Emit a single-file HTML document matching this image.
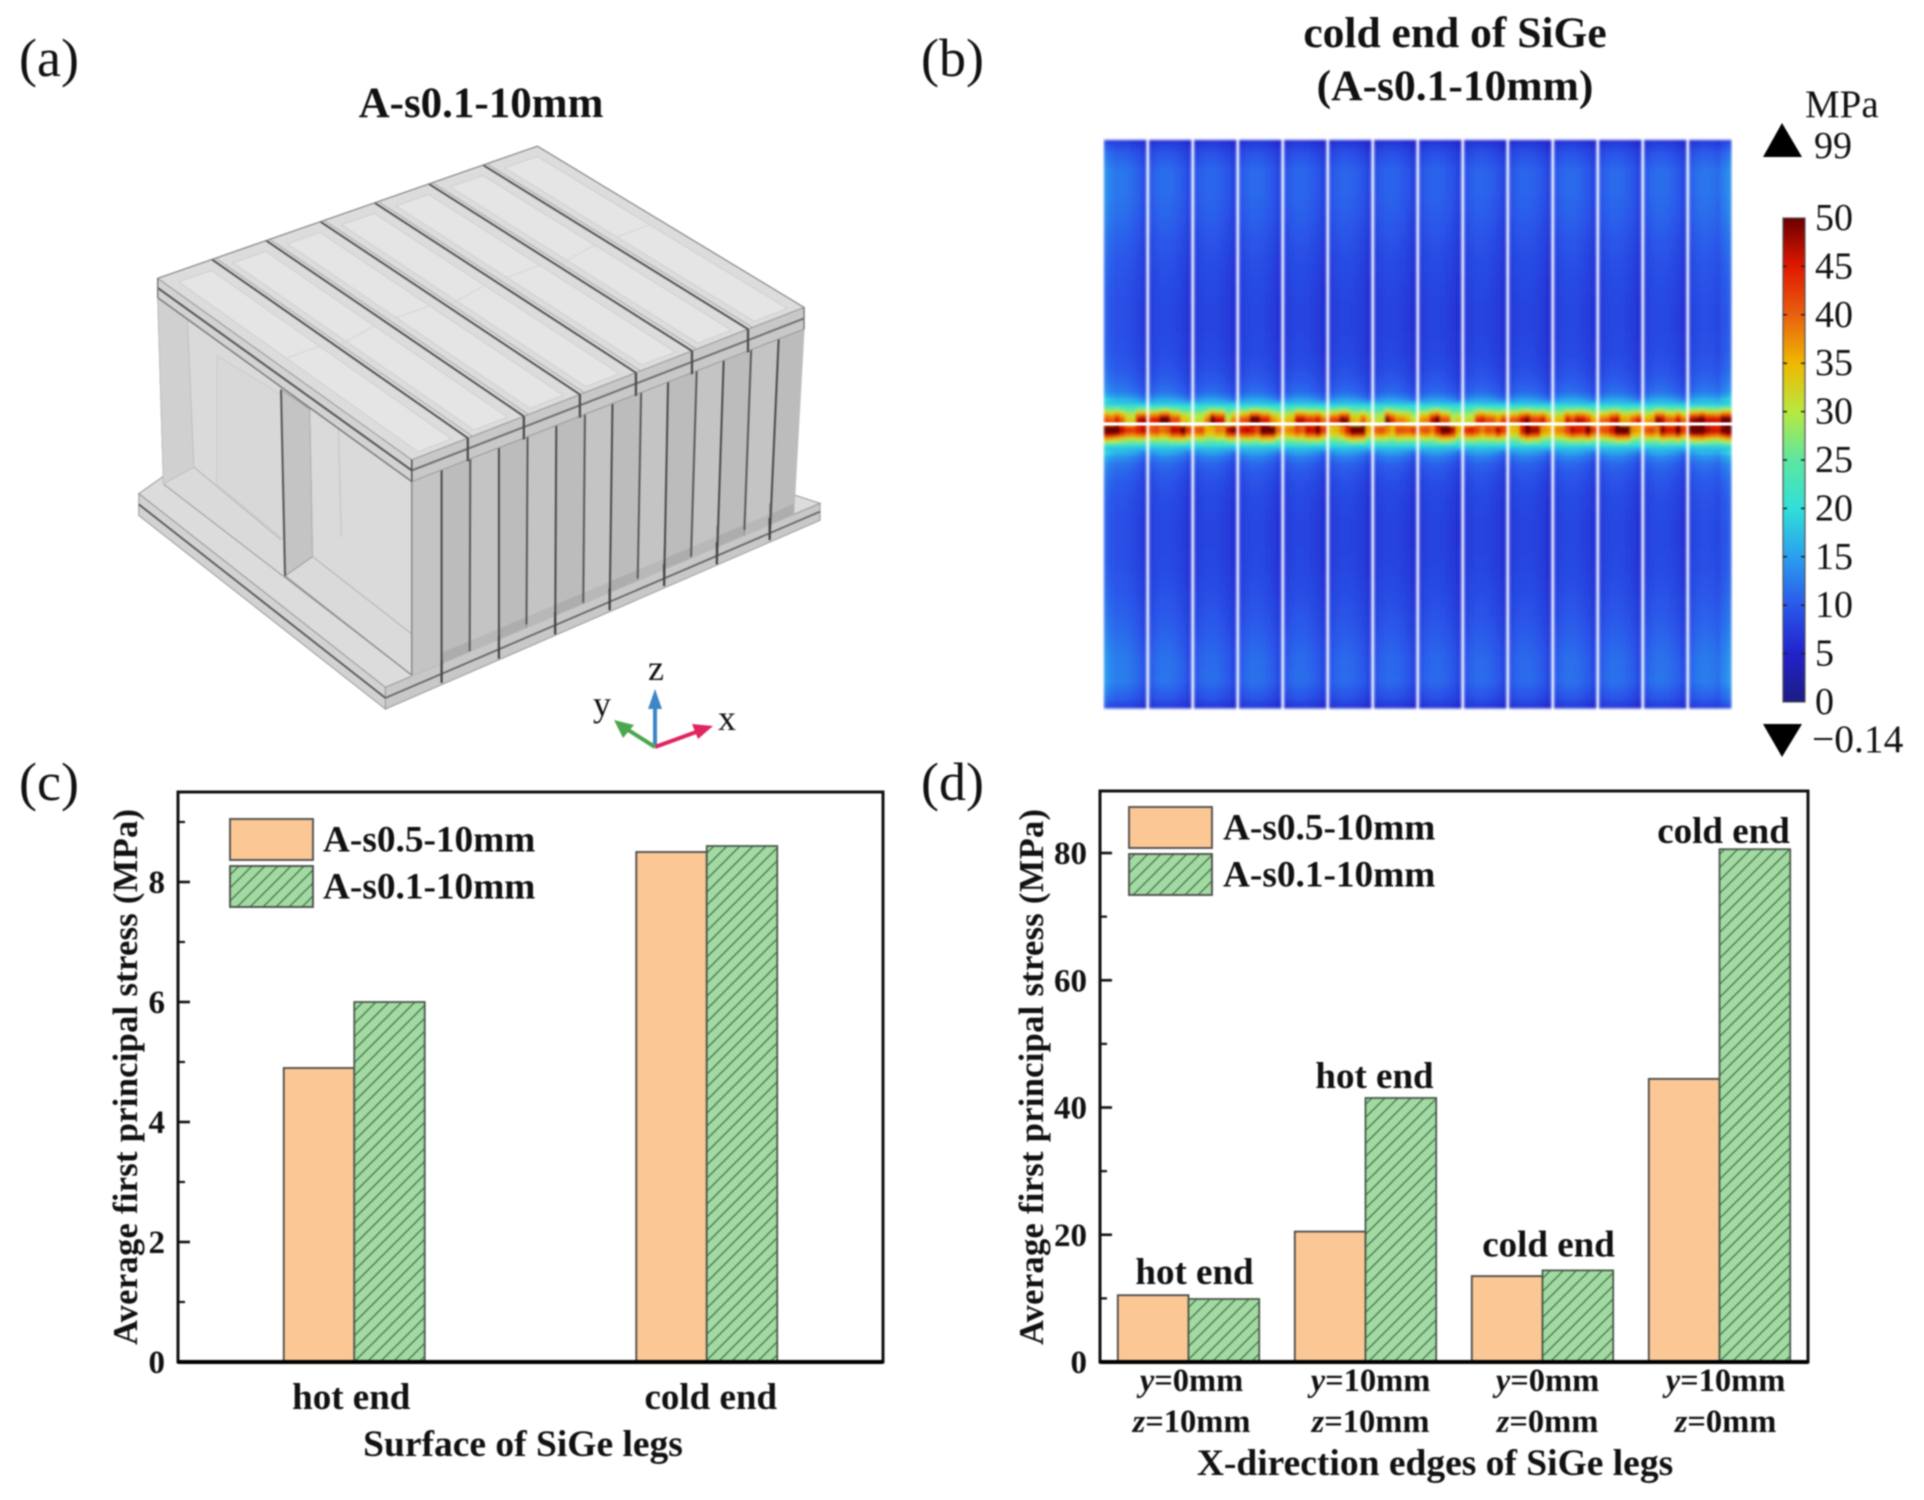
<!DOCTYPE html>
<html lang="en">
<head>
<meta charset="utf-8">
<title>SiGe leg stress figure</title>
<style>
html,body{margin:0;padding:0;background:#fff;width:1924px;height:1500px;overflow:hidden}
svg{display:block;filter:blur(0.75px)}
text{font-family:"Liberation Serif",serif;fill:#111}
.b{font-weight:bold}
</style>
</head>
<body>
<svg id="fig" xmlns="http://www.w3.org/2000/svg" width="1924" height="1500" viewBox="0 0 1924 1500">
<defs>
<pattern id="hatch" patternUnits="userSpaceOnUse" width="13" height="13">
<rect width="13" height="13" fill="#a2daa2"/>
<path d="M-3,3 L3,-3 M0,13 L13,0 M10,16 L16,10" stroke="#4a7a55" stroke-width="1.35"/>
</pattern>
<filter id="soft" x="-2%" y="-2%" width="104%" height="104%"><feGaussianBlur stdDeviation="1.3"/></filter>
<linearGradient id="cbarGrad" x1="0" y1="1" x2="0" y2="0"></linearGradient>
</defs>
<rect width="1924" height="1500" fill="#fff"/>

<text x="19" y="76" font-size="54">(a)</text>
<text x="921" y="76" font-size="54">(b)</text>
<text x="19" y="800" font-size="54">(c)</text>
<text x="921" y="800" font-size="54">(d)</text>

<text class="b" x="481" y="117" font-size="43" text-anchor="middle">A-s0.1-10mm</text>
<text class="b" x="1455" y="47" font-size="43.5" text-anchor="middle">cold end of SiGe</text>
<text class="b" x="1455" y="100" font-size="43.5" text-anchor="middle">(A-s0.1-10mm)</text>

<g id="model" transform="scale(.5735,.484)"></g>

<g>
<path d="M655,747 L655,703" stroke="#3f85c6" stroke-width="4" fill="none"/>
<polygon points="655,689 648,709 662,709" fill="#3f85c6"/>
<path d="M655,747 L699,731" stroke="#e0245e" stroke-width="4" fill="none"/>
<polygon points="713,726 692,724 698,739" fill="#e0245e"/>
<path d="M655,747 L625,728" stroke="#4da64d" stroke-width="4" fill="none"/>
<polygon points="614,720 623,738 634,725" fill="#4da64d"/>
<text x="656" y="680" font-size="36" text-anchor="middle">z</text>
<text x="602" y="716" font-size="36" text-anchor="middle">y</text>
<text x="727" y="730" font-size="36" text-anchor="middle">x</text>
</g>

<g id="heat"></g>
<g id="cbar"></g>
<text x="1805" y="117" font-size="39">MPa</text>
<polygon points="1782,123 1763,157 1802,157" fill="#000"/>
<text x="1814" y="158" font-size="38">99</text>
<polygon points="1782,757 1763,724 1802,724" fill="#000"/>
<text x="1812" y="752" font-size="39.5">&#8722;0.14</text>

<g id="chartC"></g>
<g id="chartD"></g>
</svg>

<script>
/* ---------- panel c data ---------- */
const cCategories = ['hot end', 'cold end'];
const cSeriesA = [4.9, 8.5];
const cSeriesB = [6.0, 8.6];
const cYTicks = [0, 2, 4, 6, 8];
const cYMinorTicks = [1, 3, 5, 7, 9];

/* ---------- panel d data ---------- */
const dCategoriesY = ['0mm', '10mm', '0mm', '10mm'];
const dCategoriesZ = ['10mm', '10mm', '0mm', '0mm'];
const dSeriesA = [10.5, 20.5, 13.5, 44.5];
const dSeriesB = [9.9, 41.5, 14.4, 80.6];
const dAnnotations = ['hot end', 'hot end', 'cold end', 'cold end'];
const dYTicks = [0, 20, 40, 60, 80];
const dYMinorTicks = [10, 30, 50, 70];

const seriesNames = ['A-s0.5-10mm', 'A-s0.1-10mm'];

/* ---------- panel b data ---------- */
const colorbarTicks = [0, 5, 10, 15, 20, 25, 30, 35, 40, 45, 50];
const colorbarColors = ['#1c1c82', '#2222cc', '#2a58ea', '#2a9fee', '#30dfd8', '#5ce6a0', '#b8e840', '#eeb800', '#e86010', '#e01800', '#6a0000'];
const stationMm = [0, .06, .2, .5, .9, 1.3, 1.7, 2.1, 2.5, 2.9, 3.3, 3.7, 4.0, 4.2, 4.35, 4.45, 4.53, 4.6, 4.66, 4.72, 4.77, 4.82, 4.87, 4.92, 4.97,
                   5.03, 5.08, 5.13, 5.18, 5.23, 5.28, 5.34, 5.4, 5.47, 5.55, 5.65, 5.8, 6.0, 6.3, 6.7, 7.1, 7.5, 7.9, 8.3, 8.7, 9.1, 9.5, 9.8, 9.94, 10];
const stationStress = [6, 7.5, 9, 10.5, 10.5, 10, 9.2, 8.6, 8.2, 7.9, 7.9, 8.2, 8.8, 9.6, 10.6, 12, 14.5, 17, 21, 26, 31, 36, 40, 42, 40,
                       40, 42, 40, 36, 31, 26, 21, 17, 14.5, 12, 10.6, 9.6, 8.8, 8.2, 7.9, 7.9, 8.1, 8.6, 9.2, 10, 10.8, 11, 9, 7];
const stationBlobShare = [0,0,0,0,0,0,0,0,0,0,0,0,0,0,0,0,0,0,0,.4,.7,1,1.6,1.6,1.6,
                          1.6,1.6,1.6,1,.7,.4,0,0,0,0,0,0,0,0,0,0,0,0,0,0,0,0,0,0];
const acrossStrip = [.95, 1.03, 1.07, 1.07, 1.05, 1.0, .94, .82];
const stripLevel = [1.08, 1.02, .98, 1.0, .98, .97, .96, .96, .97, .97, 1.0, 1.0, 1.02, 1.07];
const hotUpper = [
 [42,45,42,38,47,49],[46,50,50,44,40,40],[38,42,50,47,38,43],[44,50,50,46,42,41],
 [40,47,47,45,47,44],[45,49,48,40,44,41],[38,49,45,42,41,39],[42,47,50,44,38,40],
 [38,45,46,44,42,46],[44,47,49,45,47,43],[40,46,44,47,45,42],[43,46,47,41,44,47],
 [41,48,47,43,47,44],[48,50,46,46,49,48]];
const hotLower = [
 [50,49,46,44,46,48],[44,42,43,47,50,46],[44,40,40,42,48,50],[47,46,44,50,50,44],
 [42,44,43,47,50,46],[40,42,46,50,50,42],[44,42,40,44,44,46],[44,42,46,50,48,42],
 [46,44,42,44,48,46],[40,46,50,48,42,42],[42,44,47,46,50,46],[44,46,50,50,42,42],
 [44,42,48,46,50,46],[50,50,47,46,48,50]];

/* ---------- helpers ---------- */
const NS = 'http://www.w3.org/2000/svg';
function mk(tag, parent, attrs) {
  const e = document.createElementNS(NS, tag);
  for (const k in attrs) e.setAttribute(k, attrs[k]);
  parent.appendChild(e);
  return e;
}

/* ---------- colour scale ---------- */
function hex2rgb(h) { return [parseInt(h.slice(1,3),16), parseInt(h.slice(3,5),16), parseInt(h.slice(5,7),16)]; }
function stressColor(v) {
  const t = Math.max(0, Math.min(49.999, v)) / 5;
  const i = Math.floor(t), f = t - i;
  const a = hex2rgb(colorbarColors[i]), b = hex2rgb(colorbarColors[i+1]);
  return 'rgb(' + a.map((c, n) => Math.round(c + (b[n]-c)*f)).join(',') + ')';
}

/* ---------- heatmap ---------- */
(function () {
  const heat = document.getElementById('heat');
  const left = 1104, top = 140, bottom = 708, pitch = 45, stripW = 42;
  const yOf = mm => top + (bottom - top) * mm / 10;
  const cols = acrossStrip.length;
  function cellValue(s, r, c, base) {
    const peaks = stationMm[r] < 5 ? hotUpper[s] : hotLower[s];
    const peak = peaks[Math.floor(c * 6 / cols)];
    let f = acrossStrip[c];
    if (s === 0 && c === 0) f = 1.22;
    if (s === 0 && c === 1) f = 1.12;
    if (s === 13 && c === cols - 1) f = 1.22;
    if (s === 13 && c === cols - 2) f = 1.12;
    const scale = base < 15 ? f * stripLevel[s] : 1 + (f * stripLevel[s] - 1) * .25;
    return base * scale + (peak - 44) * stationBlobShare[r];
  }
  stripLevel.forEach((level, s) => {
    const strip = mk('g', heat, {filter: 'url(#soft)'});
    
    
    const x0 = left + s * pitch;
    for (let r = 0; r < stationStress.length; r++) {
      const y0 = yOf(stationMm[r]), y1 = yOf(stationMm[r + 1]);
      const next = r + 1 < stationStress.length ? stationStress[r + 1] : stationStress[r];
      const subs = (y1 - y0) > 6 ? Math.ceil((y1 - y0) / 5) : 1;
      for (let q = 0; q < subs; q++) {
        const share = q / subs;
        const base = subs > 1 ? stationStress[r] + (next - stationStress[r]) * share : stationStress[r];
        for (let c = 0; c < cols; c++) {
          const cell = mk('rect', strip, {
            x: x0 + c * stripW / cols,
            y: y0 + (y1 - y0) * share,
            width: stripW / cols + .5,
            height: (y1 - y0) / subs + .5,
            fill: stressColor(cellValue(s, r, c, base))
          });
          
          
        }
      }
    }
    const mid = mk('rect', heat, {x: x0 - 1, y: yOf(5) - 1.6, width: stripW + 4, height: 3.2, fill: '#fff'});
    
    
  });
})();

/* ---------- colorbar ---------- */
(function () {
  const g = document.getElementById('cbar');
  const grad = document.getElementById('cbarGrad');
  const x0 = 1783, x1 = 1805, yTop = 218, yBot = 702;
  const yOf = v => yBot - (yBot - yTop) * v / 50;
  colorbarColors.forEach((col, i) => mk('stop', grad, {offset: colorbarTicks[i] / 50, 'stop-color': col}));
  const bar = mk('rect', g, {x: x0, y: yTop, width: x1 - x0, height: yBot - yTop, fill: 'url(#cbarGrad)', stroke: '#555', 'stroke-width': 1.2});
  
  
  colorbarTicks.forEach(v => {
    if (v !== 0 && v !== 50) {
      const a = mk('path', g, {d: `M${x0},${yOf(v)}h4M${x1},${yOf(v)}h-4`, stroke: '#222', 'stroke-width': 1.5});
      
      
    }
    const t = mk('text', g, {x: 1815, y: yOf(v) + 12, 'font-size': 38});
    
    
    t.textContent = v;
  });
})();

/* ---------- bar charts ---------- */
function barChart(opts) {
  const g = opts.root, f = opts.frame;
  const yScale = v => f.y1 - (f.y1 - f.y0) * v / opts.yMax;
  const xScale = i => f.x0 + (f.x1 - f.x0) * (i + .5) / opts.count;
  const bw = opts.barWidth;

  opts.a.forEach((v, i) => {
    const r = mk('rect', g, {x: xScale(i) - bw, y: yScale(v), width: bw, height: yScale(0) - yScale(v), fill: '#fbc795', stroke: '#4a4a4a', 'stroke-width': 1.8});
    
    
  });
  opts.b.forEach((v, i) => {
    const r = mk('rect', g, {x: xScale(i), y: yScale(v), width: bw, height: yScale(0) - yScale(v), fill: 'url(#hatch)', stroke: '#4a5a4a', 'stroke-width': 1.8});
    
    
  });

  const frame = mk('rect', g, {x: f.x0, y: f.y0, width: f.x1 - f.x0, height: f.y1 - f.y0, fill: 'none', stroke: '#111', 'stroke-width': 3});
  
  
  const base = mk('path', g, {d: `M${f.x0},${f.y1}H${f.x1}`, stroke: '#000', 'stroke-width': 4});
  
  

  opts.ticks.forEach(v => {
    if (v !== 0) {
      const tk = mk('path', g, {d: `M${f.x0},${yScale(v)}h12`, stroke: '#111', 'stroke-width': 2.6});
      
      
    }
    const t = mk('text', g, {x: f.x0 - 13, y: yScale(v) + 11, 'font-size': 33, 'text-anchor': 'end', class: 'b'});
    
    
    t.textContent = v;
  });
  opts.minor.forEach(v => {
    const tk = mk('path', g, {d: `M${f.x0},${yScale(v)}h7`, stroke: '#111', 'stroke-width': 2.2});
    
    
  });

  const yt = mk('text', g, {
    transform: `translate(${opts.yTitleX},1077) rotate(-90)`, 'font-size': 34.5, 'text-anchor': 'middle', class: 'b',
    textLength: 536, lengthAdjust: 'spacing'
  });
  
  
  yt.textContent = 'Average first principal stress (MPa)';

  const xt = mk('text', g, {x: opts.xTitle.x, y: opts.xTitle.y, 'font-size': 37.5, 'text-anchor': 'middle', class: 'b'});
  
  
  xt.textContent = opts.xTitle.text;

  const L = opts.legend;
  seriesNames.forEach((name, i) => {
    const sw = mk('rect', g, {x: L.x, y: L.y[i], width: L.w, height: L.h, fill: i ? 'url(#hatch)' : '#fbc795', stroke: '#4a4a4a', 'stroke-width': 1.8});
    
    
    const t = mk('text', g, {x: L.tx, y: L.y[i] + L.h / 2 + 12, 'font-size': 37.3, class: 'b'});
    
    
    t.textContent = name;
  });
  return {xScale, yScale};
}

const scC = barChart({
  root: document.getElementById('chartC'),
  frame: {x0: 178, x1: 883, y0: 792, y1: 1362},
  yMax: 9.5, count: cCategories.length, barWidth: 70.5,
  a: cSeriesA, b: cSeriesB, ticks: cYTicks, minor: cYMinorTicks,
  yTitleX: 137,
  xTitle: {x: 523, y: 1456, text: 'Surface of SiGe legs'},
  legend: {x: 230, w: 83, h: 41, y: [819, 866], tx: 323}
});
const cLabelNudge = [-3, 4];
cCategories.forEach((name, i) => {
  const t = mk('text', document.getElementById('chartC'), {x: scC.xScale(i) + cLabelNudge[i], y: 1409, 'font-size': 37, 'text-anchor': 'middle', class: 'b'});
  
  
  t.textContent = name;
});

const scD = barChart({
  root: document.getElementById('chartD'),
  frame: {x0: 1100, x1: 1808, y0: 791, y1: 1362},
  yMax: 89.75, count: dCategoriesY.length, barWidth: 70.7,
  a: dSeriesA, b: dSeriesB, ticks: dYTicks, minor: dYMinorTicks,
  yTitleX: 1043,
  xTitle: {x: 1435, y: 1475, text: 'X-direction edges of SiGe legs'},
  legend: {x: 1129, w: 83, h: 41, y: [807, 854], tx: 1223}
});
const dLabelNudge = [3, 5, 5, 6];
const dAnnotNudgeX = [6, 9, 6, 4];
const dAnnotNudgeY = [-11, -10, -14, -6];
dCategoriesY.forEach((val, i) => {
  const g = document.getElementById('chartD');
  const cx = scD.xScale(i) + dLabelNudge[i];
  const t1 = mk('text', g, {x: cx, y: 1391, 'font-size': 32.5, 'text-anchor': 'middle', class: 'b'});
  
  
  const s1 = mk('tspan', t1, {'font-style': 'italic'});
  s1.textContent = 'y';
  const r1 = mk('tspan', t1, {});
  r1.textContent = '=' + val;
  const t2 = mk('text', g, {x: cx, y: 1432, 'font-size': 32.5, 'text-anchor': 'middle', class: 'b'});
  
  
  const s2 = mk('tspan', t2, {'font-style': 'italic'});
  s2.textContent = 'z';
  const r2 = mk('tspan', t2, {});
  r2.textContent = '=' + dCategoriesZ[i];
  const top = Math.max(dSeriesA[i], dSeriesB[i]);
  const an = mk('text', g, {x: scD.xScale(i) + dAnnotNudgeX[i], y: scD.yScale(top) + dAnnotNudgeY[i], 'font-size': 37, 'text-anchor': 'middle', class: 'b'});
  
  
  an.textContent = dAnnotations[i];
});

/* ---------- 3D model (panel a, drawn in crop coordinates, scaled by parent group) ---------- */
(function () {
  const m = document.getElementById('model');
  function poly(pts, fill, name, strokeCol) {
    const p = mk('polygon', m, {points: pts, fill: fill, stroke: strokeCol || '#9a9a9a', 'stroke-width': 1, 'vector-effect': 'non-scaling-stroke'});
    
    
    return p;
  }
  function line(x1, y1, x2, y2, col, w, name) {
    const l = mk('line', m, {x1, y1, x2, y2, stroke: col, 'stroke-width': w, 'vector-effect': 'non-scaling-stroke'});
    
    
  }
  const mix = (a, b, t) => a + (b - a) * t;

  /* bottom plate */
  poly('242,1020 600,720 1430,1040 672,1420', '#dcdcdc', 'bottom-plate-top');
  poly('242,1020 672,1420 672,1465 242,1065', '#d2d2d2', 'bottom-plate-left-side');
  poly('672,1420 1430,1040 1430,1075 672,1465', '#c8c8c8', 'bottom-plate-right-side');
  line(242, 1042, 672, 1442, '#555', 1.8, 'bottom-plate-seam');
  line(672, 1442, 1430, 1057, '#666', 1.8, 'bottom-plate-seam');
  line(300, 1000, 718, 1395, '#999', 1.2, 'bottom-plate-inner-edge');

  /* left (y-direction) face */
  poly('275,615 718,995 718,1395 285,1000', '#dadada', 'left-face');
  poly('275,615 327,660 338,965 285,1000', '#d0d0d0', 'left-face-margin', '#c0c0c0');
  poly('378,735 490,815 495,1115 378,1000', '#d8d8d8', 'left-face-inner', '#cbcbcb');
  poly('490,805 540,845 545,1150 497,1190', '#c4c4c4', 'end-leg');
  line(490, 805, 497, 1190, '#555', 2, 'end-leg-edge');
  line(540, 845, 545, 1150, '#b5b5b5', 1.2, 'end-leg-edge');
  line(338, 965, 490, 1115, '#b8b8b8', 1.2, 'left-inner-edge');
  line(545, 1150, 718, 1310, '#b8b8b8', 1.2, 'left-inner-edge');
  line(497, 1190, 718, 1395, '#888', 1.2, 'left-inner-edge');
  line(590, 880, 595, 1110, '#c6c6c6', 1.2, 'left-inner-edge');

  /* right (x-direction) face with legs */
  const lineX = [718, 770, 820, 870, 920, 970, 1020, 1068, 1118, 1165, 1215, 1262, 1310, 1358, 1402];
  const lineBottom = [1395, 1410, 1345, 1360, 1290, 1310, 1245, 1260, 1195, 1210, 1150, 1165, 1095, 1115, 1050];
  const bottomXShift = [0, 0, -1, 0, -2, -2, -3, -5, -6, -7, -10, -12, -12, -16, -18];
  const topY = x => mix(995, 680, (x - 718) / (1402 - 718));
  const edgeY = x => 1420 - (x - 672) * (380 / 758);
  for (let i = 0; i < lineX.length - 1; i++) {
    const a = lineX[i], b = lineX[i + 1];
    const ab = a + bottomXShift[i], bb = b + bottomXShift[i + 1];
    poly(`${a},${topY(a)} ${b},${topY(b)} ${bb},${edgeY(bb)} ${ab},${edgeY(ab)}`, i % 2 ? '#bcbcbc' : '#c4c4c4', 'leg-face-' + i, '#bbbbbb');
  }
  /* darker see-through ground bands near the feet */
  for (let i = 1; i < lineX.length - 1; i++) {
    const fx = lineX[i] + bottomXShift[i], fy = edgeY(fx);
    const nx = lineX[i + 1] + bottomXShift[i + 1], ny = edgeY(nx);
    poly(`${fx},${fy} ${nx},${ny} ${nx},${ny - 22} ${fx},${fy - 22}`, i % 2 ? '#adadad' : '#b8b8b8', 'leg-foot-shade-' + i, 'none');
    line(fx, fy, fx - 0, fy - 44, '#8f8f8f', 1, 'leg-foot-line-' + i);
  }
  for (let i = 0; i < lineX.length - 1; i++) {
    const front = i % 2 === 1;
    line(lineX[i], topY(lineX[i]) - 6, lineX[i] + bottomXShift[i], lineBottom[i], i === 0 ? '#888' : (front ? '#4a4a4a' : '#5a5a5a'), i === 0 ? 1.4 : 2, 'leg-edge-' + i);
  }

  /* top plate */
  poly('275,575 718,950 718,995 275,615', '#d2d2d2', 'top-plate-left-side');
  poly('718,950 1402,635 1402,680 718,995', '#c8c8c8', 'top-plate-right-side');
  poly('937,302 275,575 718,950 1402,635', '#dcdcdc', 'top-plate-top');
  line(275, 595, 718, 972, '#555', 2, 'top-plate-seam');
  line(275, 615, 718, 995, '#777', 1.4, 'top-plate-seam');
  line(718, 972, 1402, 658, '#707070', 2, 'top-plate-seam');

  /* top plate strips */
  const backPt = t => [mix(275, 937, t), mix(575, 302, t)];
  const frontPt = t => [mix(718, 1402, t), mix(950, 635, t)];
  for (let k = 0; k < 7; k++) {
    const a = k / 7 + .012, b = (k + 1) / 7 - .012;
    const B1 = backPt(a), B2 = backPt(b), F1 = frontPt(a), F2 = frontPt(b);
    const inset = (p, q, t) => [mix(p[0], q[0], t), mix(p[1], q[1], t)];
    const s1 = inset(B1, F1, .04), s2 = inset(B2, F2, .04), e1 = inset(B1, F1, .98), e2 = inset(B2, F2, .98);
    const w1 = inset(s1, s2, .14), w2 = inset(s1, s2, .86), w3 = inset(e1, e2, .86), w4 = inset(e1, e2, .14);
    poly(`${w1} ${w2} ${w3} ${w4}`, '#e5e5e5', 'top-strip-' + k, '#cfcfcf');
    const c1 = inset(w1, w4, .45), c2 = inset(w2, w3, .45);
    line(c1[0], c1[1] + (k % 2 ? 12 : 0), c2[0], c2[1], '#d6d6d6', 1.2, 'top-strip-step');
  }
  for (let k = 1; k < 7; k++) {
    const B = backPt(k / 7), F = frontPt(k / 7);
    line(B[0], B[1], F[0], F[1], '#555', 2, 'top-divider-' + k);
    line(B[0] + 7, B[1] - 2, F[0] + 7, F[1] - 4, '#a8a8a8', 1, 'top-divider-shade-' + k);
    line(F[0], F[1], F[0], F[1] + 48, '#4c4c4c', 2.3, 'top-divider-drop-' + k);
  }
  line(718, 950, 718, 995, '#555', 1.6, 'front-corner');
  line(275, 575, 275, 615, '#777', 1.4, 'left-corner');
  line(1402, 635, 1402, 680, '#777', 1.4, 'right-corner');
  line(937, 302, 1402, 635, '#8a8a8a', 1.2, 'top-plate-right-edge');
  line(937, 302, 275, 575, '#8a8a8a', 1.2, 'top-plate-back-edge');

  /* bottom plate through-cuts under the front legs */
  for (let i = 1; i < lineX.length - 1; i += 2) {
    const x = lineX[i] + bottomXShift[i];
    const y0 = lineBottom[i];
    line(x, y0 - 45, x, y0 + 1, '#444', 2.2, 'bottom-plate-cut-' + i);
  }
})();
</script>
</body>
</html>
